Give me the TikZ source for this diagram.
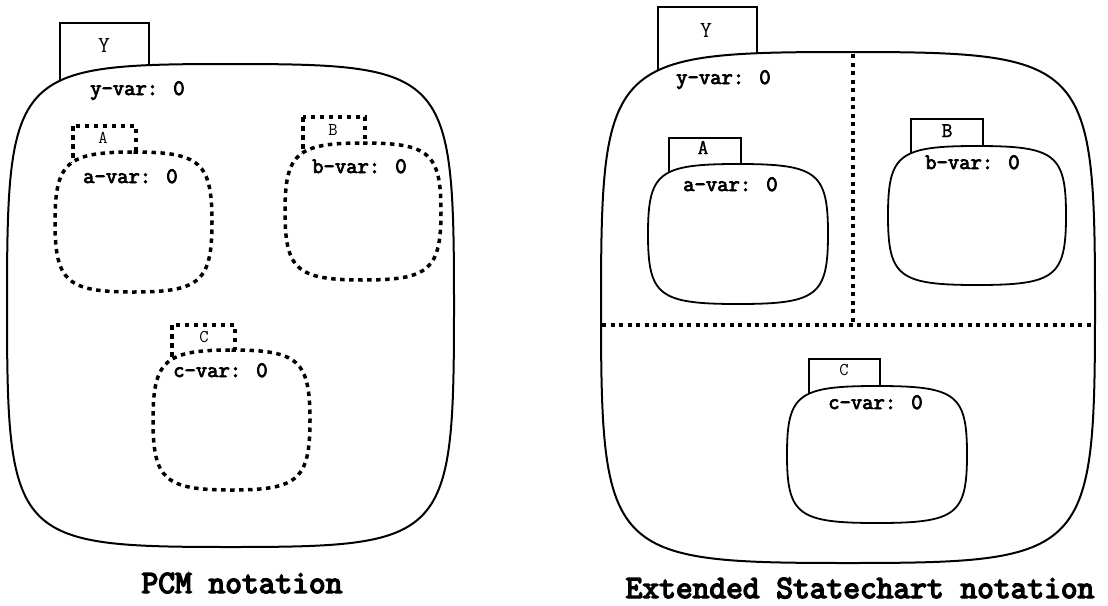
\documentclass[tikz,border=0pt]{standalone}
\usepackage{fontspec}
\newfontfamily\heavymono[FakeBold=3.5]{Latin Modern Mono}
\newfontfamily\titlemono[FakeBold=4.5]{Latin Modern Mono}
\newfontfamily\semimono[FakeBold=1.5]{Latin Modern Mono}
% #1 options, #2 l, #3 t, #4 r, #5 b, #6 squareness k
\newcommand\blobshape[6][]{%
  \pgfmathsetmacro\blobcx{(#2+#4)/2}%
  \pgfmathsetmacro\blobcy{(#3+#5)/2}%
  \pgfmathsetmacro\blobdx{#6*(#4-#2)/2}%
  \pgfmathsetmacro\blobdy{#6*(#5-#3)/2}%
  \draw[#1] (\blobcx,#3) .. controls (\blobcx+\blobdx,#3) and (#4,\blobcy-\blobdy) .. (#4,\blobcy)
    .. controls (#4,\blobcy+\blobdy) and (\blobcx+\blobdx,#5) .. (\blobcx,#5)
    .. controls (\blobcx-\blobdx,#5) and (#2,\blobcy+\blobdy) .. (#2,\blobcy)
    .. controls (#2,\blobcy-\blobdy) and (\blobcx-\blobdx,#3) .. cycle;}
\tikzset{
  solidline/.style={line width=2pt, fill=white},
  innersolid/.style={line width=1.8pt, fill=white},
  dotline/.style={line width=3.5pt, dash pattern=on 4.5pt off 4.5pt, fill=white},
  divline/.style={line width=3.5pt, dash pattern=on 4pt off 4.5pt},
  vartext/.style={font=\heavymono\fontsize{22}{22}\selectfont, inner sep=0pt, anchor=base west},
  tabtext/.style={font=\ttfamily\fontsize{18}{18}\selectfont, inner sep=0pt, anchor=base},
  bigtab/.style={font=\ttfamily\fontsize{23}{23}\selectfont, inner sep=0pt, anchor=base},
  boldtab/.style={font=\semimono\fontsize{21}{21}\selectfont, inner sep=0pt, anchor=base},
  titletext/.style={font=\titlemono\fontsize{32.5}{32.5}\selectfont, inner sep=0pt, anchor=base},
}
\begin{document}
\begin{tikzpicture}[x=1pt,y=-1pt]
\useasboundingbox (0,0) rectangle (1108,605);
% ---------------- left: PCM notation ----------------
\draw[line width=1.8pt] (60,23) rectangle (149,90);
\blobshape[solidline]{7}{64}{454}{547}{0.97}
\draw[dotline] (73,126) rectangle (136,170);
\draw[dotline] (303,117) rectangle (365,160);
\draw[dotline] (172,325) rectangle (235,365);
\blobshape[dotline]{55}{152}{212}{292}{0.85}
\blobshape[dotline]{285}{143}{441}{280}{0.85}
\blobshape[dotline]{153}{350}{310}{490}{0.85}
\node[bigtab] (lY) at (104,52) {Y};
\node[vartext] (lyvar) at (90,95) {y-var: 0};
\node[tabtext] (lA) at (103,143) {A};
\node[vartext] (lavar) at (83,183) {a-var: 0};
\node[tabtext] (lB) at (333,135) {B};
\node[vartext] (lbvar) at (312,173) {b-var: 0};
\node[tabtext] (lC) at (204,342) {C};
\node[vartext] (lcvar) at (173,377) {c-var: 0};
\node[titletext] (ltitle) at (242,593) {PCM notation};
% ---------------- right: Extended Statechart notation ----------------
\draw[line width=1.8pt] (658,7) rectangle (757,80);
\blobshape[solidline]{601}{52}{1095}{563}{0.97}
\coordinate (vtop) at (853,54);
\coordinate (vbot) at (853,325);
\coordinate (hleft) at (602,325);
\coordinate (hright) at (1094,325);
\draw[divline] (vtop) -- (vbot);
\draw[divline] (hleft) -- (hright);
\draw[line width=1.8pt] (669,138) rectangle (741,180);
\draw[line width=1.8pt] (911,119) rectangle (983,160);
\draw[line width=1.8pt] (809,359) rectangle (880,400);
\blobshape[innersolid]{648}{164}{828}{304}{0.88}
\blobshape[innersolid]{888}{146}{1066}{285}{0.88}
\blobshape[innersolid]{787}{386}{967}{523}{0.88}
\node[bigtab] (rY) at (706,37) {Y};
\node[vartext] (ryvar) at (676,84) {y-var: 0};
\node[boldtab] (rA) at (703,154) {A};
\node[vartext] (ravar) at (683,191) {a-var: 0};
\node[boldtab] (rB) at (947,137) {B};
\node[vartext] (rbvar) at (925,169) {b-var: 0};
\node[tabtext] (rC) at (844,375) {C};
\node[vartext] (rcvar) at (828,409) {c-var: 0};
\node[titletext] (rtitle) at (860,598) {Extended Statechart notation};
\end{tikzpicture}
\end{document}
